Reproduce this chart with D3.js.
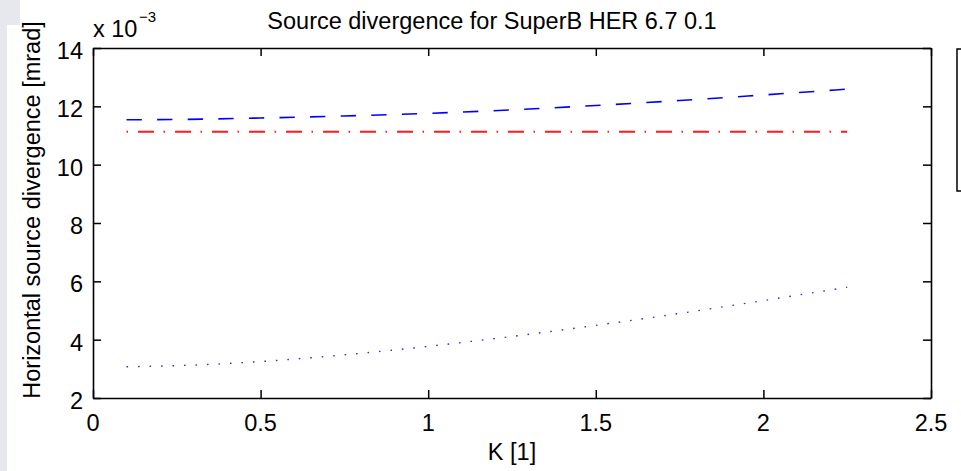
<!DOCTYPE html>
<html>
<head>
<meta charset="utf-8">
<script src="https://cdn.jsdelivr.net/npm/d3@7"></script>
<style>
  html, body { margin: 0; padding: 0; background: #ffffff; }
  svg { display: block; }
  text { font-family: "Liberation Sans", Arial, Helvetica, sans-serif; fill: #000; }
</style>
</head>
<body>
<svg id="chart" width="961" height="471"></svg>
<script>
// Undulator parameter K and horizontal source divergence (units of 1e-3 mrad)
const kValues       = [0.1, 0.25, 0.5, 0.75, 1.0, 1.25, 1.5, 1.75, 2.0, 2.25];
const totalDiv      = [11.54, 11.55, 11.60, 11.67, 11.76, 11.88, 12.03, 12.20, 12.39, 12.59];
const electronDiv   = [11.13, 11.13, 11.13, 11.13, 11.13, 11.13, 11.13, 11.13, 11.13, 11.13];
const photonDiv     = [3.07, 3.11, 3.25, 3.48, 3.77, 4.11, 4.49, 4.90, 5.34, 5.80];

const xTicks = [0, 0.5, 1, 1.5, 2, 2.5];
const yTicks = [2, 4, 6, 8, 10, 12, 14];
const xTickLabels = ["0", "0.5", "1", "1.5", "2", "2.5"];
const yTickLabels = ["2", "4", "6", "8", "10", "12", "14"];

const titleText = "Source divergence for SuperB HER 6.7 0.1";
const xLabel = "K [1]";
const yLabel = "Horizontal source divergence [mrad]";

const svg = d3.select("#chart");

// light grey page margin on the left edge
svg.append("rect").attr("x", 0).attr("y", 0).attr("width", 7).attr("height", 471).attr("fill", "#e7e8ed");
svg.append("rect").attr("x", 0).attr("y", 0).attr("width", 20).attr("height", 25).attr("fill", "#e7e8ed");

const plot = { left: 93, right: 931, top: 48, bottom: 398 };

const x = d3.scaleLinear().domain([0, 2.5]).range([plot.left, plot.right]);
const y = d3.scaleLinear().domain([2, 14]).range([plot.bottom, plot.top]);

const tickLen = 8;
const fontSize = 23.5;

// axes on all four sides, ticks pointing inward
const gAxes = svg.append("g");
const styleAxis = g => {
  g.select(".domain").attr("stroke", "#000").attr("stroke-width", 1.6);
  g.selectAll(".tick line").attr("stroke", "#000").attr("stroke-width", 1.5);
  g.selectAll(".tick text").remove();
};

gAxes.append("g").attr("transform", `translate(0,${plot.bottom})`)
  .call(d3.axisBottom(x).tickValues(xTicks).tickSizeInner(-tickLen).tickSizeOuter(0))
  .call(styleAxis);
gAxes.append("g").attr("transform", `translate(0,${plot.top})`)
  .call(d3.axisTop(x).tickValues(xTicks).tickSizeInner(-tickLen).tickSizeOuter(0))
  .call(styleAxis);
gAxes.append("g").attr("transform", `translate(${plot.left},0)`)
  .call(d3.axisLeft(y).tickValues(yTicks).tickSizeInner(-tickLen).tickSizeOuter(0))
  .call(styleAxis);
gAxes.append("g").attr("transform", `translate(${plot.right},0)`)
  .call(d3.axisRight(y).tickValues(yTicks).tickSizeInner(-tickLen).tickSizeOuter(0))
  .call(styleAxis);

// tick labels
svg.append("g").selectAll("text").data(xTicks).join("text")
  .attr("x", d => x(d)).attr("y", 431)
  .attr("text-anchor", "middle").attr("font-size", fontSize)
  .text((d, i) => xTickLabels[i]);

svg.append("g").selectAll("text").data(yTicks).join("text")
  .attr("x", plot.left - 10).attr("y", d => y(d) + 11)
  .attr("text-anchor", "end").attr("font-size", fontSize)
  .text((d, i) => yTickLabels[i]);

// exponent multiplier
svg.append("text").attr("x", 93).attr("y", 37).attr("font-size", fontSize).text("x 10");
svg.append("text").attr("x", 139).attr("y", 22).attr("font-size", 15).text("\u22123");

// title and axis labels
svg.append("text").attr("x", 492).attr("y", 29).attr("text-anchor", "middle")
  .attr("font-size", fontSize).text(titleText);
svg.append("text").attr("x", 512).attr("y", 460).attr("text-anchor", "middle")
  .attr("font-size", fontSize).text(xLabel);
svg.append("text").attr("transform", "translate(40,210) rotate(-90)")
  .attr("text-anchor", "middle").attr("font-size", fontSize).text(yLabel);

// series
const line = vals => d3.line()
  .x((d, i) => x(kValues[i]))
  .y(d => y(d))
  .curve(d3.curveMonotoneX)(vals);

const series = [
  { vals: totalDiv,    color: "#0000ff", dash: "15.3,15.3",     width: 1.6 },
  { vals: electronDiv, color: "#ff1a1a", dash: "1.5,10,16,9.5", width: 2 },
  { vals: photonDiv,   color: "#2b2bff", dash: "1.6,9.9",       width: 1.4 }
];

svg.append("g").selectAll("path").data(series).join("path")
  .attr("d", s => line(s.vals))
  .attr("fill", "none")
  .attr("stroke", s => s.color)
  .attr("stroke-width", s => s.width)
  .attr("stroke-dasharray", s => s.dash);

// legend frame (extends past the right edge)
svg.append("rect").attr("x", 957).attr("y", 49).attr("width", 200).attr("height", 142)
  .attr("fill", "#fff").attr("stroke", "#000").attr("stroke-width", 1.5);
</script>
</body>
</html>
